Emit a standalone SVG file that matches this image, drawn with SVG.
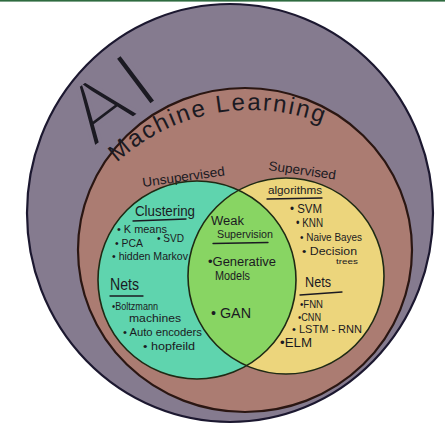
<svg xmlns="http://www.w3.org/2000/svg" width="445" height="425" viewBox="0 0 445 425">
<style>
  .t { font-family: "Liberation Sans", "DejaVu Sans", sans-serif; fill: #1b1a22; }
  .ul { fill: none; stroke: #1b1a22; stroke-width: 1.3; stroke-linecap: round; }
  .ring { stroke-width: 2.2; }
</style>
<defs>
  <clipPath id="clipTeal"><circle cx="197" cy="280" r="99"/></clipPath>
  <path id="mlArc" d="M 54,307 A 197 197 0 0 1 448,307"/>
</defs>
<rect x="0" y="0" width="445" height="425" fill="#ffffff"/>
<rect x="0" y="0" width="445" height="1.6" fill="#2e6b3f"/>

<g id="ai">
  <ellipse class="ring" cx="230" cy="213" rx="203" ry="209" fill="#857b8f" stroke="#1c1830"/>
  <text class="t" x="0" y="0" font-size="86" letter-spacing="5" stroke="#857b8f" stroke-width="3.6" transform="translate(94,148) rotate(-37)">AI</text>
</g>

<g id="ml">
  <ellipse class="ring" cx="245" cy="250" rx="167" ry="162" fill="#ab7c72" stroke="#2a1612" stroke-width="1.8"/>
  <text class="t" font-size="24"><textPath href="#mlArc" startOffset="162" textLength="220" lengthAdjust="spacing">Machine Learning</textPath></text>
</g>

<g id="unsupervised">
  <circle cx="197" cy="280" r="99" fill="#5fd4ae"/>
  <text class="t" font-size="13" transform="translate(143,187) rotate(-8)" textLength="83" lengthAdjust="spacingAndGlyphs">Unsupervised</text>
  <text class="t" font-size="14" x="135" y="216" textLength="60" lengthAdjust="spacingAndGlyphs">Clustering</text>
  <path class="ul" d="M133,221 L186,219"/>
  <text class="t" font-size="11" x="117" y="233" textLength="50" lengthAdjust="spacingAndGlyphs">• K means</text>
  <text class="t" font-size="11" x="115" y="247" textLength="28" lengthAdjust="spacingAndGlyphs">• PCA</text>
  <text class="t" font-size="11" x="157" y="242" textLength="27" lengthAdjust="spacingAndGlyphs">• SVD</text>
  <text class="t" font-size="11" x="112" y="260" textLength="76" lengthAdjust="spacingAndGlyphs">• hidden Markov</text>
  <text class="t" font-size="16" x="110" y="290" textLength="29" lengthAdjust="spacingAndGlyphs">Nets</text>
  <path class="ul" d="M110,296 L143,296"/>
  <text class="t" font-size="11.5" x="112" y="310" textLength="46" lengthAdjust="spacingAndGlyphs">•Boltzmann</text>
  <text class="t" font-size="11" x="129" y="322" textLength="52" lengthAdjust="spacingAndGlyphs">machines</text>
  <text class="t" font-size="11" x="123" y="336" textLength="79" lengthAdjust="spacingAndGlyphs">• Auto encoders</text>
  <text class="t" font-size="11" x="143" y="350" textLength="52" lengthAdjust="spacingAndGlyphs">• hopfeild</text>
</g>

<g id="supervised">
  <circle cx="286" cy="276" r="98" fill="#ecd57c"/>
  <text class="t" font-size="13" transform="translate(268,170) rotate(8)" textLength="68" lengthAdjust="spacingAndGlyphs">Supervised</text>
  <text class="t" font-size="11" x="268" y="194" textLength="54" lengthAdjust="spacingAndGlyphs">algorithms</text>
  <path class="ul" d="M267,199 L322,198"/>
  <text class="t" font-size="12" x="290" y="213" textLength="32" lengthAdjust="spacingAndGlyphs">• SVM</text>
  <text class="t" font-size="12" x="296" y="227" textLength="27" lengthAdjust="spacingAndGlyphs">• KNN</text>
  <text class="t" font-size="11" x="300" y="241" textLength="62" lengthAdjust="spacingAndGlyphs">• Naive Bayes</text>
  <text class="t" font-size="11" x="302" y="255" textLength="55" lengthAdjust="spacingAndGlyphs">• Decision</text>
  <text class="t" font-size="7" x="336" y="264" textLength="22" lengthAdjust="spacingAndGlyphs">trees</text>
  <text class="t" font-size="15" x="305" y="287" textLength="26" lengthAdjust="spacingAndGlyphs">Nets</text>
  <path class="ul" d="M300,295 L342,292"/>
  <text class="t" font-size="11" x="300" y="308" textLength="23" lengthAdjust="spacingAndGlyphs">•FNN</text>
  <text class="t" font-size="11" x="298" y="320.5" textLength="23" lengthAdjust="spacingAndGlyphs">•CNN</text>
  <text class="t" font-size="11" x="292" y="333" textLength="70" lengthAdjust="spacingAndGlyphs">• LSTM - RNN</text>
  <text class="t" font-size="12" x="280" y="347" textLength="32" lengthAdjust="spacingAndGlyphs">•ELM</text>
</g>

<g id="weak-supervision">
  <circle cx="286" cy="276" r="98" fill="#88d563" clip-path="url(#clipTeal)"/>
  <circle cx="197" cy="280" r="99" fill="none" stroke="#1e2a14" stroke-width="1.6"/>
  <circle cx="286" cy="276" r="98" fill="none" stroke="#1e2a14" stroke-width="1.6"/>
  <text class="t" font-size="12" x="211" y="225" textLength="33" lengthAdjust="spacingAndGlyphs">Weak</text>
  <text class="t" font-size="10.5" x="217" y="238" textLength="56" lengthAdjust="spacingAndGlyphs">Supervision</text>
  <path class="ul" d="M213,243.5 L268,242.5"/>
  <text class="t" font-size="12" x="208" y="266" textLength="68" lengthAdjust="spacingAndGlyphs">•Generative</text>
  <text class="t" font-size="12" x="215" y="280" textLength="35" lengthAdjust="spacingAndGlyphs">Models</text>
  <text class="t" font-size="14" x="211" y="318" textLength="40" lengthAdjust="spacingAndGlyphs">• GAN</text>
</g>
</svg>
